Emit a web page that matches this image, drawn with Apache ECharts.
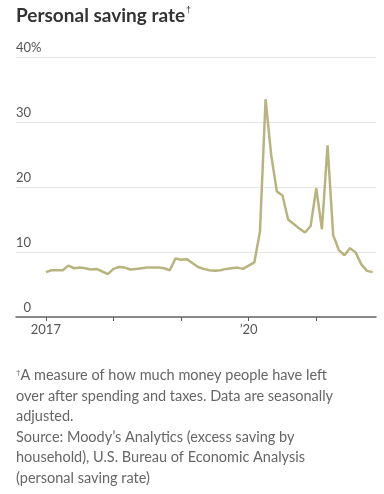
<!DOCTYPE html>
<html><head><meta charset="utf-8">
<script src="https://cdn.jsdelivr.net/npm/echarts@6/dist/echarts.min.js"></script>
<style>html,body{margin:0;padding:0;background:#fff}#c{width:384px;height:494px}</style>
</head><body><div id="c"></div>
<script>
// Monthly personal saving rate, Jan 2017 .. Nov 2021 (%)
const months = [];
for (let y = 2017; y <= 2021; y++) for (let m = 1; m <= 12; m++) { if (y === 2021 && m > 11) break; months.push(y + '-' + String(m).padStart(2, '0')); }
const rate2017 = [6.9, 7.2, 7.2, 7.2, 7.9, 7.5, 7.6, 7.5, 7.3, 7.4, 7.0, 6.6];
const rate2018 = [7.4, 7.7, 7.6, 7.3, 7.4, 7.5, 7.6, 7.6, 7.6, 7.5, 7.2, 9.0];
const rate2019 = [8.8, 8.9, 8.3, 7.7, 7.4, 7.2, 7.1, 7.2, 7.4, 7.5, 7.6, 7.4];
const rate2020 = [7.9, 8.4, 13.1, 33.5, 24.9, 19.3, 18.7, 15.0, 14.3, 13.6, 13.0, 14.0];
const rate2021 = [19.8, 13.5, 26.4, 12.6, 10.3, 9.5, 10.6, 9.9, 8.1, 7.1, 6.9];
const rates = [].concat(rate2017, rate2018, rate2019, rate2020, rate2021);
const xTickYears = [2017, 2018, 2019, 2020, 2021];
const xLabels = { 2017: '2017', 2020: '\u201920' };
const yTicks = [0, 10, 20, 30, 40];

const idx = s => { const [y, m] = s.split('-').map(Number); return (y - 2017) * 12 + (m - 1); };
const seriesData = months.map((d, i) => [idx(d), rates[i]]);
const tickVals = xTickYears.map(y => (y - 2017) * 12);
const labelVals = Object.keys(xLabels).map(y => (Number(y) - 2017) * 12);

const chart = echarts.init(document.getElementById('c'));
const FONT = 'Lato';
chart.setOption({
  animation: false,
  grid: { left: 16, right: 8, top: 57, bottom: 177, containLabel: false },
  xAxis: {
    type: 'value', min: -5.3, max: 58.6,
    axisLine: { show: true, lineStyle: { color: '#666', width: 1.5 } },
    axisTick: { show: true, customValues: tickVals, length: 4, lineStyle: { color: '#555', width: 1 } },
    axisLabel: { customValues: labelVals, formatter: v => xLabels[2017 + Math.round(v / 12)] || '', color: '#555', fontFamily: FONT, fontSize: 13, margin: 6 },
    splitLine: { show: false }
  },
  yAxis: {
    type: 'value', min: 0, max: 40, interval: 10,
    axisLine: { show: false }, axisTick: { show: false },
    splitLine: { lineStyle: { color: '#e6e6e6', width: 1 } },
    axisLabel: {
      inside: true, margin: 0, align: 'left', verticalAlign: 'bottom', padding: [0, 0, 3, 0],
      color: '#555', fontFamily: FONT, fontSize: 13,
      formatter: v => v === 40 ? '40%' : (v === 0 ? '\u20070' : String(v))
    }
  },
  series: [{
    type: 'line', data: seriesData, showSymbol: false, symbol: 'none',
    lineStyle: { color: '#b9b47f', width: 2.5 }, z: 3
  }],
  graphic: [
    { type: 'text', left: 16, top: 6, style: { text: 'Personal saving rate{s|†}', fontFamily: FONT, fontWeight: 'bold', fontSize: 19, fill: '#333',
      rich: { s: { fontSize: 9, verticalAlign: 'top', fill: '#333', padding: [0, 0, 9, 1] } } } },
    { type: 'text', left: 16, top: 365, style: {
      text: '{s|†}A measure of how much money people have left\nover after spending and taxes. Data are seasonally\nadjusted.\nSource: Moody\u2019s Analytics (excess saving by\nhousehold), U.S. Bureau of Economic Analysis\n(personal saving rate)',
      fontFamily: FONT, fontSize: 14.5, fill: '#666', lineHeight: 20.6,
      rich: { s: { fontSize: 8, fill: '#666', padding: [0, 0, 6, 0] } } } }
  ]
});
</script></body></html>
